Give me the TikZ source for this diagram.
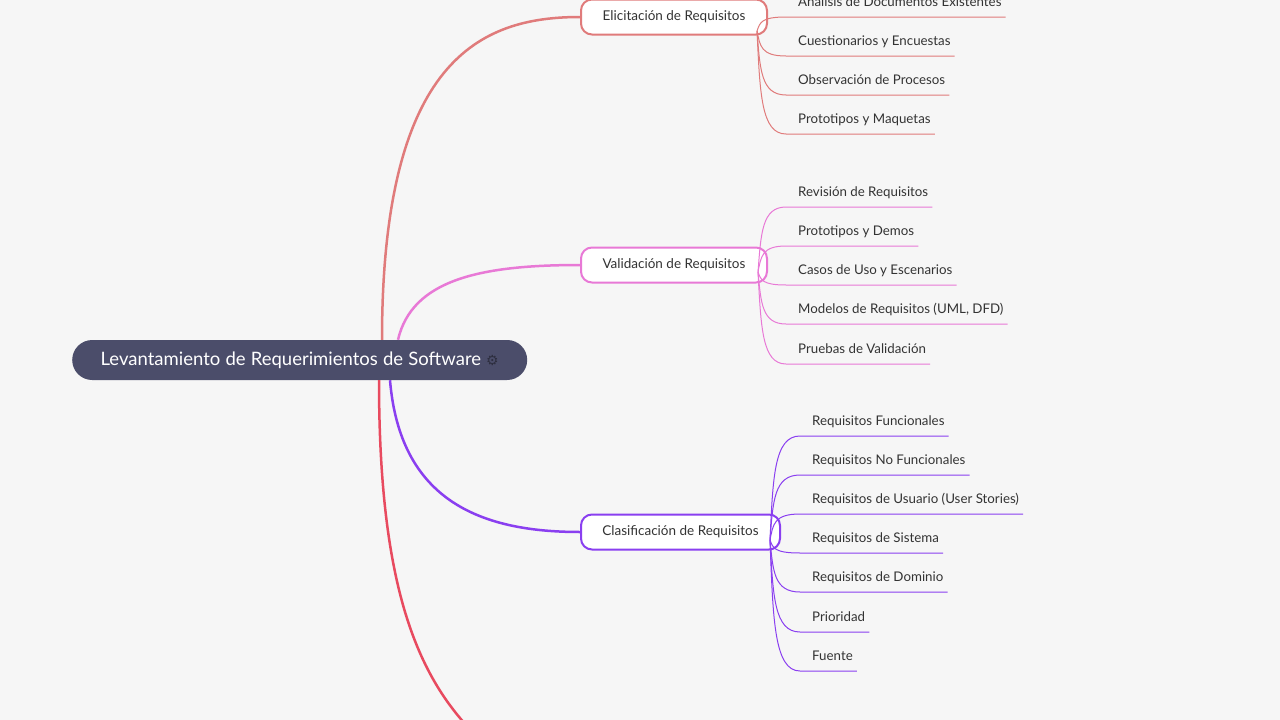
\documentclass[tikz,border=0pt]{standalone}
\usepackage{fontspec}
\setmainfont{Lato}
\newfontfamily\symfont{DejaVu Sans}
\usetikzlibrary{calc}
\definecolor{bg}{HTML}{F6F6F6}
\definecolor{rootc}{HTML}{4B4D6A}
\definecolor{elic}{HTML}{E07B7B}
\definecolor{vali}{HTML}{E879D6}
\definecolor{clas}{HTML}{8A3FF0}
\definecolor{more}{HTML}{E84A5F}
\definecolor{txt}{HTML}{333333}
\tikzset{ root/.style = { rounded corners = 20pt
                        , fill          = rootc
                        , text          = white
                        , minimum width = 455pt
                        , minimum height= 40pt
                        , font          = \fontsize{18.5}{22}\selectfont
                        },
          br/.style   = { rounded corners = 11pt
                        , draw
                        , line width    = 2pt
                        , fill          = white
                        , text          = txt
                        , minimum height= 35pt
                        , font          = \fontsize{13.5}{16}\selectfont
                        },
          lf/.style   = { anchor        = south west
                        , inner xsep    = 0pt
                        , inner ysep    = 0pt
                        , text height   = 10pt
                        , text depth    = 10.5pt
                        , text          = txt
                        , font          = \fontsize{13.3}{16}\selectfont
                        }
        }
\newcommand{\leaf}[5]{% color, start, name, y of underline, text
  \node[lf] (#3) at (#4) {#5};
  \draw[#1, line width=1pt] (#2) .. controls ($(#2)!0.6!(#2 |- #3.south west)+(3,0)$)
       and ($(#2 |- #3.south west)+(4,0)$) .. ($(#3.south west)+(-12,0)$)
       -- ($(#3.south east)+(4,0)$);
}
\begin{document}
\begin{tikzpicture}[x=1pt, y=-1pt]
  \fill[bg] (0,0) rectangle (1280,720);
  \useasboundingbox (0,0) rectangle (1280,720);

  \node[root, inner xsep=21pt, anchor=west] (lev) at (72,360)
       {\spaceskip=0.28em Levantamiento de Requerimientos de Software
        {\symfont\color{rootc!60!black}\fontsize{14}{16}\selectfont ⚙}};

  \node[br, draw=elic, minimum width=186pt] (eli) at (674,17) {Elicitación de Requisitos};
  \node[br, draw=vali, minimum width=186pt] (val) at (674,265) {Validación de Requisitos};
  \node[br, draw=clas, minimum width=199pt] (cla) at (680.5,532) {Clasificación de Requisitos};

  % main branches
  \draw[elic, line width=2.5pt] ($(lev.north west)+(310,0)$)
       .. controls ($(lev.north west)+(310,-280)$) and ($(eli.west)+(-100,0)$) .. (eli.west);
  \draw[vali, line width=2.5pt] ($(lev.north west)+(326,0)$)
       .. controls ($(lev.north west)+(340,-60)$) and ($(val.west)+(-100,0)$) .. (val.west);
  \draw[clas, line width=2.5pt] ($(lev.south west)+(318,0)$)
       .. controls ($(lev.south west)+(328,120)$) and ($(cla.west)+(-100,0)$) .. (cla.west);
  \draw[more, line width=2.5pt] ($(lev.south west)+(307,0)$)
       .. controls ($(lev.south west)+(307,220)$) and ($(lev.south west)+(350,310)$)
       .. ($(lev.south west)+(420,370)$);

  \coordinate (e0) at (757,31);
  \coordinate (v0) at (758,272);
  \coordinate (c0) at (770,540);

  \foreach \n/\y/\t in {1/17/Análisis de Documentos Existentes,
                        2/56/Cuestionarios y Encuestas,
                        3/95/Observación de Procesos,
                        4/134/Prototipos y Maquetas} {
    \leaf{elic}{e0}{e\n}{798,\y}{\t}
  }
  \foreach \n/\y/\t in {1/207/Revisión de Requisitos,
                        2/246/Prototipos y Demos,
                        3/285/Casos de Uso y Escenarios,
                        4/324/{Modelos de Requisitos (UML, DFD)},
                        5/364/Pruebas de Validación} {
    \leaf{vali}{v0}{v\n}{798,\y}{\t}
  }
  \foreach \n/\y/\t in {1/436/Requisitos Funcionales,
                        2/475/Requisitos No Funcionales,
                        3/514/Requisitos de Usuario (User Stories),
                        4/553/Requisitos de Sistema,
                        5/592/Requisitos de Dominio,
                        6/632/Prioridad,
                        7/671/Fuente} {
    \leaf{clas}{c0}{c\n}{812,\y}{\t}
  }
\end{tikzpicture}
\end{document}
